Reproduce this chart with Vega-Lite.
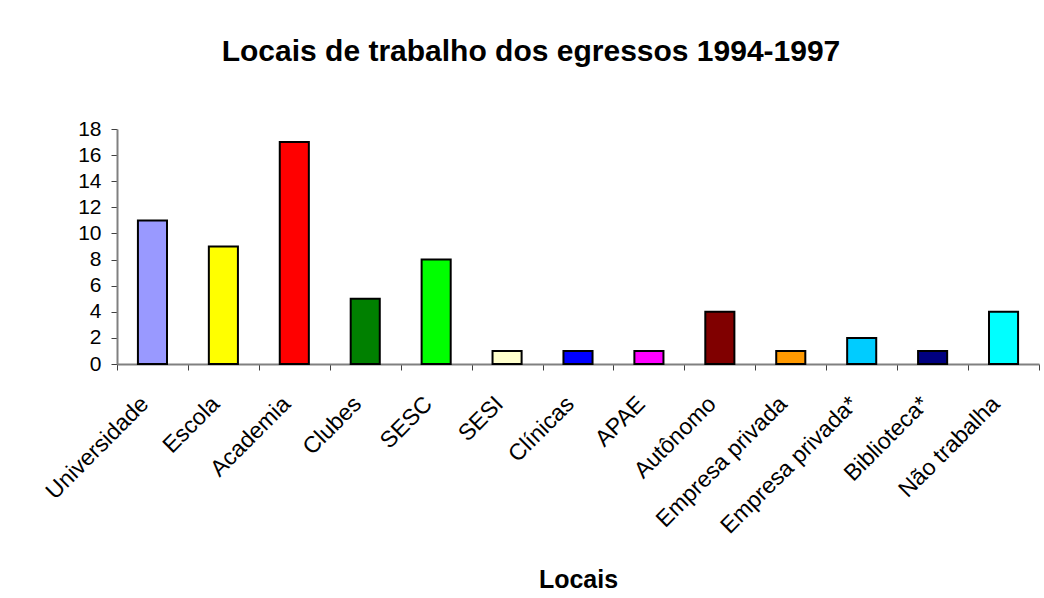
{
  "$schema": "https://vega.github.io/schema/vega-lite/v6.json",
  "width": 922,
  "height": 235,
  "autosize": {"type": "none"},
  "padding": {"left": 117, "top": 129, "right": 5, "bottom": 234},
  "background": "white",
  "title": {
    "text": "Locais de trabalho dos egressos 1994-1997",
    "font": "Liberation Sans",
    "fontSize": 30,
    "fontWeight": "bold",
    "color": "#000000",
    "anchor": "middle",
    "baseline": "alphabetic",
    "offset": 27,
    "dx": -47
  },
  "data": {
    "values": [
      {"local": "Universidade", "n": 11, "cor": "#9999FF"},
      {"local": "Escola", "n": 9, "cor": "#FFFF00"},
      {"local": "Academia", "n": 17, "cor": "#FF0000"},
      {"local": "Clubes", "n": 5, "cor": "#008000"},
      {"local": "SESC", "n": 8, "cor": "#00FF00"},
      {"local": "SESI", "n": 1, "cor": "#FFFFCC"},
      {"local": "Clínicas", "n": 1, "cor": "#0000FF"},
      {"local": "APAE", "n": 1, "cor": "#FF00FF"},
      {"local": "Autônomo", "n": 4, "cor": "#800000"},
      {"local": "Empresa privada", "n": 1, "cor": "#FF9900"},
      {"local": "Empresa privada*", "n": 2, "cor": "#00CCFF"},
      {"local": "Biblioteca*", "n": 1, "cor": "#000080"},
      {"local": "Não trabalha", "n": 4, "cor": "#00FFFF"}
    ]
  },
  "mark": {"type": "bar", "width": {"band": 0.41}, "stroke": "#000000", "strokeWidth": 2},
  "encoding": {
    "x": {
      "field": "local",
      "type": "nominal",
      "sort": null,
      "scale": {"paddingInner": 0, "paddingOuter": 0},
      "axis": {
        "title": "Locais",
        "titleFont": "Liberation Sans",
        "titleFontSize": 25,
        "titleFontWeight": "bold",
        "titleColor": "#000000",
        "titleBaseline": "alphabetic",
        "titleY": 223,
        "titleAnchor": "middle",
        "labelAngle": -45,
        "labelAlign": "right",
        "labelBaseline": "middle",
        "labelFont": "Liberation Sans",
        "labelFontSize": 23,
        "labelColor": "#000000",
        "labelPadding": 30,
        "labelOffset": -8,
        "labelLimit": 400,
        "labelOverlap": false,
        "tickBand": "extent",
        "tickSize": 6,
        "tickColor": "#404040",
        "domainColor": "#808080",
        "domainWidth": 2,
        "grid": false
      }
    },
    "y": {
      "field": "n",
      "type": "quantitative",
      "scale": {"domain": [0, 18], "nice": false},
      "axis": {
        "title": null,
        "values": [0, 2, 4, 6, 8, 10, 12, 14, 16, 18],
        "labelFont": "Liberation Sans",
        "labelFontSize": 21,
        "labelColor": "#000000",
        "labelPadding": 10,
        "tickSize": 6,
        "tickColor": "#404040",
        "domainColor": "#808080",
        "domainWidth": 2,
        "grid": false
      }
    },
    "fill": {"field": "cor", "type": "nominal", "scale": null, "legend": null}
  },
  "config": {
    "view": {"stroke": null},
    "font": "Liberation Sans"
  }
}
